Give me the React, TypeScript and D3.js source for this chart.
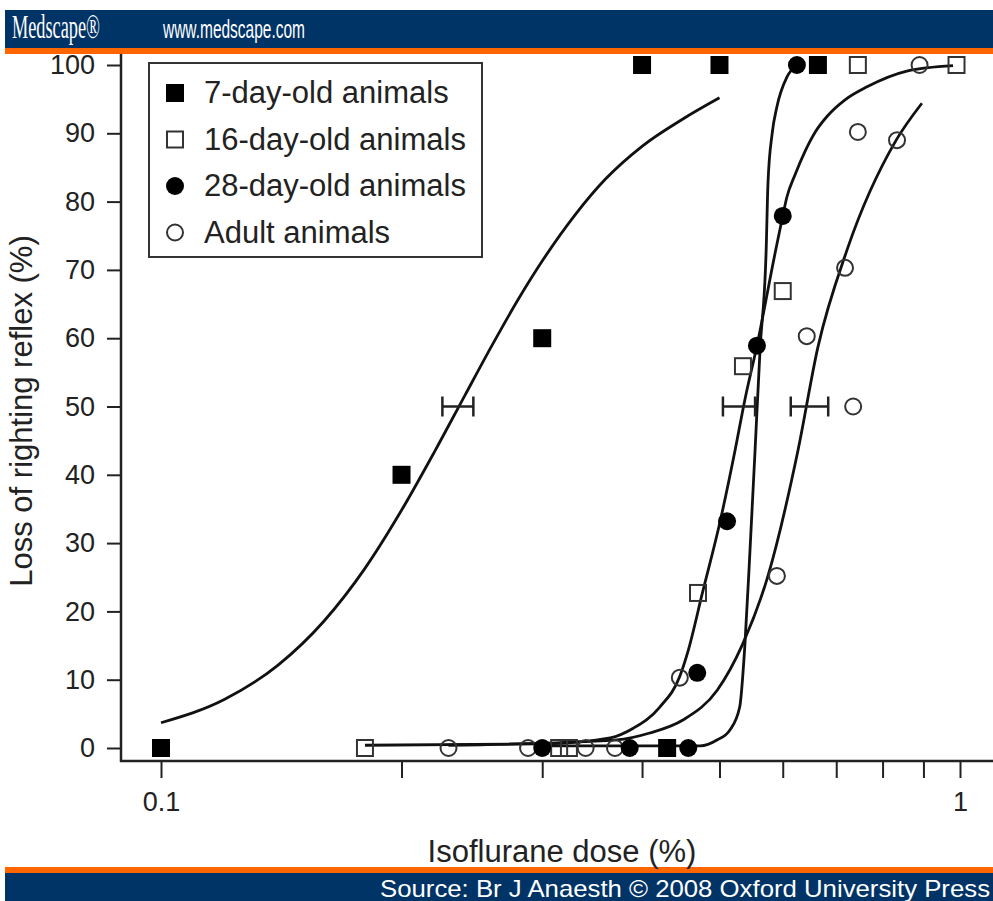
import React, { useEffect, useRef } from 'react';
import * as d3 from 'd3';

// axis ticks
const xTickValues = [0.1, 0.2, 0.3, 0.4, 0.5, 0.6, 0.7, 0.8, 0.9, 1];
const xTickLabels = ['0.1', '', '', '', '', '', '', '', '', '1'];
const yTickValues = [0, 10, 20, 30, 40, 50, 60, 70, 80, 90, 100];

// measured points (dose %, loss of righting reflex %)
const day7Dose = [0.1, 0.2, 0.3, 0.4, 0.43, 0.5, 0.664];
const day7Resp = [0, 40, 60, 100, 0, 100, 100];
const day16Dose = [0.18, 0.315, 0.324, 0.47, 0.535, 0.6, 0.745, 0.99];
const day16Resp = [0, 0, 0, 22.7, 55.9, 66.9, 100, 100];
const day28Dose = [0.3, 0.386, 0.457, 0.469, 0.511, 0.557, 0.6, 0.625];
const day28Resp = [0, 0, 0, 11, 33.2, 58.9, 77.9, 100];
const adultDose = [0.229, 0.288, 0.34, 0.37, 0.446, 0.59, 0.643, 0.718, 0.735, 0.745, 0.834, 0.89];
const adultResp = [0, 0, 0, 0, 10.3, 25.2, 60.3, 70.3, 50, 90.2, 89, 100];

// fitted curves
const fit7Dose = [0.1, 0.12, 0.14, 0.16, 0.18, 0.2, 0.22, 0.24, 0.26, 0.28, 0.3, 0.33, 0.36, 0.4, 0.45, 0.5];
const fit7Resp = [3.7, 7.1, 12.1, 18.6, 26.3, 34.8, 43.4, 51.6, 59.1, 65.7, 71.3, 78.1, 83.3, 88.1, 92.1, 95.2];
const fit16Dose = [0.18, 0.3, 0.365, 0.39, 0.421, 0.446, 0.457, 0.476, 0.501, 0.523, 0.538, 0.557, 0.587, 0.6, 0.607, 0.622, 0.64, 0.659, 0.682, 0.718, 0.765, 0.858, 0.98];
const fit16Resp = [0.4, 0.6, 1.5, 2.9, 6.0, 10.5, 14.3, 22.7, 33.2, 43.6, 51, 58.9, 72.5, 77.9, 80.6, 84.0, 87.4, 90.2, 92.5, 94.9, 96.8, 99.1, 99.9];
const fit28Dose = [0.3, 0.473, 0.497, 0.515, 0.53, 0.538, 0.546, 0.554, 0.562, 0.572, 0.575, 0.582, 0.59, 0.607, 0.625];
const fit28Resp = [0.3, 0.3, 1.2, 2.6, 6.0, 15.1, 29, 43.6, 58.3, 72.9, 82.7, 90, 93.9, 98.2, 99.9];
const fitAdultDose = [0.229, 0.372, 0.409, 0.45, 0.497, 0.534, 0.575, 0.627, 0.664, 0.722, 0.832, 0.896];
const fitAdultResp = [0.4, 1.2, 2.2, 4.1, 8.5, 15.1, 25.2, 43.6, 58.7, 72.9, 89, 94.4];

// ED50 with error bars
const ed50Mid = [0.236, 0.529, 0.647];
const ed50Low = [0.225, 0.505, 0.614];
const ed50High = [0.246, 0.554, 0.684];

const legendLabels = ['7-day-old animals', '16-day-old animals', '28-day-old animals', 'Adult animals'];

const FONT = '"Liberation Sans", Arial, Helvetica, sans-serif';
const NAVY = '#003366';
const ORANGE = '#ff6600';

const App: React.FC = () => {
  const chartRef = useRef<SVGSVGElement | null>(null);

  useEffect(() => {
    const svg = d3.select(chartRef.current);
    svg.selectAll('*').remove();

    const x = d3.scaleLog().domain([0.1, 1]).range([161, 960]);
    const y = d3.scaleLinear().domain([0, 100]).range([748, 65]);

    // header band
    svg.append('rect').attr('x', 5).attr('y', 10).attr('width', 988).attr('height', 38).attr('fill', NAVY);
    svg.append('rect').attr('x', 5).attr('y', 48).attr('width', 988).attr('height', 6).attr('fill', ORANGE);
    svg.append('text').attr('x', 12).attr('y', 38).attr('fill', '#fff')
      .attr('font-family', '"Liberation Serif", "Times New Roman", serif').attr('font-size', 33)
      .attr('textLength', 88).attr('lengthAdjust', 'spacingAndGlyphs').text('Medscape®');
    svg.append('text').attr('x', 163).attr('y', 38).attr('fill', '#fff')
      .attr('font-family', FONT).attr('font-size', 26)
      .attr('textLength', 142).attr('lengthAdjust', 'spacingAndGlyphs').text('www.medscape.com');

    // footer band
    svg.append('rect').attr('x', 5).attr('y', 867).attr('width', 988).attr('height', 6).attr('fill', ORANGE);
    svg.append('rect').attr('x', 5).attr('y', 873).attr('width', 988).attr('height', 28).attr('fill', NAVY);
    svg.append('text').attr('x', 990).attr('y', 897).attr('fill', '#fff').attr('text-anchor', 'end')
      .attr('font-family', FONT).attr('font-size', 24)
      .attr('textLength', 610).attr('lengthAdjust', 'spacingAndGlyphs')
      .text('Source: Br J Anaesth © 2008 Oxford University Press');

    // axes
    const xAxis = d3.axisBottom(x).tickValues(xTickValues).tickSize(17).tickPadding(14)
      .tickFormat((_d, i) => xTickLabels[i]);
    const gx = svg.append('g').attr('transform', 'translate(0,761)').call(xAxis);
    gx.select('.domain').remove();
    gx.selectAll('line').attr('stroke', '#222').attr('stroke-width', 2);
    gx.selectAll('text').attr('fill', '#222').attr('font-family', FONT).attr('font-size', 27);

    const yAxis = d3.axisLeft(y).tickValues(yTickValues).tickSize(14).tickPadding(12);
    const gy = svg.append('g').attr('transform', 'translate(121,0)').call(yAxis);
    gy.select('.domain').remove();
    gy.selectAll('line').attr('stroke', '#222').attr('stroke-width', 2);
    gy.selectAll('text').attr('fill', '#222').attr('font-family', FONT).attr('font-size', 27);

    svg.append('line').attr('x1', 121).attr('x2', 121).attr('y1', 54).attr('y2', 762)
      .attr('stroke', '#222').attr('stroke-width', 2.5);
    svg.append('line').attr('x1', 120).attr('x2', 993).attr('y1', 761).attr('y2', 761)
      .attr('stroke', '#222').attr('stroke-width', 2.5);

    // axis titles
    svg.append('text').attr('x', 562).attr('y', 862).attr('text-anchor', 'middle')
      .attr('font-family', FONT).attr('font-size', 31).attr('fill', '#222').text('Isoflurane dose (%)');
    svg.append('text').attr('transform', 'translate(32,411) rotate(-90)').attr('text-anchor', 'middle')
      .attr('font-family', FONT).attr('font-size', 31).attr('fill', '#222').text('Loss of righting reflex (%)');

    // fitted curves
    const line = d3.line<[number, number]>()
      .x((d) => x(d[0]))
      .y((d) => y(d[1]))
      .curve(d3.curveMonotoneX);
    const fits: [number[], number[]][] = [
      [fit7Dose, fit7Resp],
      [fit16Dose, fit16Resp],
      [fit28Dose, fit28Resp],
      [fitAdultDose, fitAdultResp],
    ];
    fits.forEach(([ds, rs]) => {
      svg.append('path')
        .attr('d', line(d3.zip(ds, rs) as [number, number][]))
        .attr('fill', 'none').attr('stroke', '#111').attr('stroke-width', 2.8);
    });

    // error bars at 50 %
    const eb = svg.append('g').attr('stroke', '#222').attr('stroke-width', 2.5);
    ed50Mid.forEach((_m, i) => {
      const yy = y(50);
      eb.append('line').attr('x1', x(ed50Low[i])).attr('x2', x(ed50High[i])).attr('y1', yy).attr('y2', yy);
      eb.append('line').attr('x1', x(ed50Low[i])).attr('x2', x(ed50Low[i])).attr('y1', yy - 10).attr('y2', yy + 10);
      eb.append('line').attr('x1', x(ed50High[i])).attr('x2', x(ed50High[i])).attr('y1', yy - 10).attr('y2', yy + 10);
    });

    // markers
    const drawSquares = (g: d3.Selection<SVGGElement, unknown, null, undefined>, ds: number[], rs: number[], filled: boolean) => {
      const s = filled ? 18 : 16;
      g.selectAll(null).data(d3.zip(ds, rs)).enter().append('rect')
        .attr('x', (d) => x(d[0]) - s / 2)
        .attr('y', (d) => y(d[1]) - s / 2)
        .attr('width', s).attr('height', s)
        .attr('fill', filled ? '#000' : 'none')
        .attr('stroke', filled ? 'none' : '#333').attr('stroke-width', 2);
    };
    const drawCircles = (g: d3.Selection<SVGGElement, unknown, null, undefined>, ds: number[], rs: number[], filled: boolean) => {
      g.selectAll(null).data(d3.zip(ds, rs)).enter().append('circle')
        .attr('cx', (d) => x(d[0]))
        .attr('cy', (d) => y(d[1]))
        .attr('r', filled ? 9 : 8)
        .attr('fill', filled ? '#000' : 'none')
        .attr('stroke', filled ? 'none' : '#333').attr('stroke-width', 2);
    };
    const gm = svg.append('g');
    drawCircles(gm.append('g'), adultDose, adultResp, false);
    drawSquares(gm.append('g'), day16Dose, day16Resp, false);
    drawCircles(gm.append('g'), day28Dose, day28Resp, true);
    drawSquares(gm.append('g'), day7Dose, day7Resp, true);

    // legend
    const lg = svg.append('g');
    lg.append('rect').attr('x', 149).attr('y', 63).attr('width', 333).attr('height', 194)
      .attr('fill', '#fff').attr('stroke', '#333').attr('stroke-width', 2);
    legendLabels.forEach((label, i) => {
      const cy = 93 + i * 46.5;
      if (i === 0) lg.append('rect').attr('x', 166).attr('y', cy - 9).attr('width', 18).attr('height', 18).attr('fill', '#000');
      if (i === 1) lg.append('rect').attr('x', 167).attr('y', cy - 8).attr('width', 16).attr('height', 16)
        .attr('fill', 'none').attr('stroke', '#333').attr('stroke-width', 2);
      if (i === 2) lg.append('circle').attr('cx', 175).attr('cy', cy).attr('r', 9).attr('fill', '#000');
      if (i === 3) lg.append('circle').attr('cx', 175).attr('cy', cy).attr('r', 8)
        .attr('fill', 'none').attr('stroke', '#333').attr('stroke-width', 2);
      lg.append('text').attr('x', 204).attr('y', cy + 10).attr('font-family', FONT).attr('font-size', 31)
        .attr('fill', '#222').text(label);
    });
  }, []);

  return (
    <svg
      ref={chartRef}
      width={993}
      height={901}
      style={{ position: 'absolute', left: 0, top: 0, background: '#fff' }}
    />
  );
};

export default App;
